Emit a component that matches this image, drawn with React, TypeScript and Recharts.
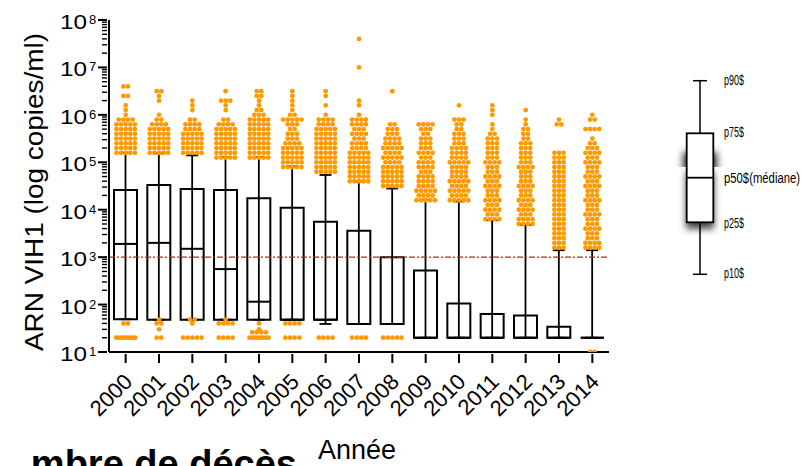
import React from 'react';
import { ComposedChart, Bar, Scatter, XAxis, YAxis, ReferenceLine } from 'recharts';

const years = ['2000', '2001', '2002', '2003', '2004', '2005', '2006', '2007', '2008', '2009', '2010', '2011', '2012', '2013', '2014'];

// box plot percentiles (copies/ml)
const p90 = [1.6e5, 1.55e5, 1.4e5, 1.3e5, 1.3e5, 8.2e4, 5.4e4, 3.9e4, 2.8e4, 1.6e4, 1.5e4, 6e3, 4.8e3, 1.4e3, 1.4e3];
const p75 = [2.6e4, 3.3e4, 2.75e4, 2.6e4, 1.75e4, 1.1e4, 5.6e3, 3.6e3, 1e3, 520, 105, 63, 59, 34, 20];
const p50 = [1.9e3, 2.0e3, 1.5e3, 560, 115, 48, 48, 39, 39, 20, 20, 20, 20, 20, 20];
const p25 = [49, 48, 48, 48, 48, 48, 48, 39, 39, 20, 20, 20, 20, 20, 20];
const p10 = [49, 48, 48, 48, 48, 48, 39, 39, 39, 20, 20, 20, 20, 20, 20];

// points above p90: number of dots per row, rows are 0.1 log apart starting at upperStart
const upperStart = [5.2, 5.2, 5.2, 5.1, 5.1, 4.9, 4.8, 4.6, 4.5, 4.2, 4.2, 3.8, 3.7, 3.2, 3.2];
const upperCounts = [
  [5, 5, 5, 5, 5, 5, 5, 4, 1, 1, 1, 0, 2, 0, 2],
  [5, 5, 5, 5, 5, 5, 4, 2, 1, 0, 0, 1, 1, 2],
  [5, 5, 5, 5, 5, 4, 4, 2, 0, 1, 1, 1],
  [5, 5, 5, 5, 5, 5, 5, 4, 2, 0, 1, 1, 3, 0, 1],
  [5, 5, 5, 5, 5, 5, 5, 5, 5, 3, 2, 1, 1, 2, 2],
  [5, 5, 5, 5, 5, 4, 3, 3, 2, 3, 5, 2, 1, 1, 1, 1, 1],
  [5, 5, 5, 5, 5, 5, 5, 5, 5, 5, 4, 4, 1, 0, 1, 0, 1, 1],
  [5, 5, 5, 5, 5, 5, 5, 4, 4, 3, 4, 3, 4, 4, 1, 0, 1, 1, 0, 0, 0, 0, 0, 0, 1, 0, 0, 0, 0, 0, 1],
  [5, 5, 5, 5, 5, 4, 5, 4, 5, 4, 4, 3, 3, 2, 0, 0, 0, 0, 0, 0, 1],
  [5, 4, 5, 4, 4, 4, 3, 4, 4, 3, 4, 3, 3, 3, 2, 3, 4],
  [5, 4, 5, 4, 5, 4, 4, 4, 5, 4, 4, 4, 3, 3, 3, 2, 2, 3, 0, 0, 1],
  [4, 3, 4, 3, 4, 3, 3, 4, 3, 4, 3, 3, 4, 3, 3, 3, 3, 3, 2, 1, 1, 0, 1, 1, 1],
  [4, 4, 3, 4, 3, 4, 3, 3, 4, 3, 3, 3, 4, 3, 3, 3, 3, 3, 2, 2, 2, 1, 1, 0, 1],
  [3, 3, 3, 3, 3, 3, 3, 3, 3, 3, 3, 3, 3, 3, 3, 3, 3, 3, 3, 3, 3, 0, 0, 0, 0, 0, 2, 1],
  [4, 4, 3, 3, 4, 3, 3, 4, 3, 3, 4, 3, 3, 4, 3, 4, 3, 3, 4, 3, 4, 3, 2, 1, 0, 4, 0, 2, 1],
];

// points below p10: [value, count]
const lowerDots = [
  [[40, 2], [20, 8]],
  [[48, 1], [40, 2], [30, 1], [20, 2]],
  [[48, 2], [40, 1], [20, 5]],
  [[48, 1], [40, 4], [20, 4]],
  [[40, 1], [30, 1], [26, 4], [20, 8]],
  [[40, 4], [20, 4]],
  [[20, 4]],
  [[20, 4]],
  [[20, 5]],
  [],
  [],
  [],
  [],
  [],
  [[10, 2]],
];

const majorTicks = [10, 100, 1e3, 1e4, 1e5, 1e6, 1e7, 1e8];
const threshold = 1000;
const legendLabels = ['p90$', 'p75$', 'p50$(médiane)', 'p25$', 'p10$'];

const FONT = '"Liberation Sans", Arial, sans-serif';
const ORANGE = '#FF9900';

const boxData = years.map((year, i) => ({
  year,
  whisker: [p10[i], p90[i]],
  box: [p25[i], p75[i]],
  median: p50[i],
}));

// beeswarm rows: dots of one row spread side by side
const dotData: { year: string; value: number; dx: number }[] = [];
function addRow(year: string, value: number, n: number) {
  const step = n > 1 ? Math.min(4.6, 19 / (n - 1)) : 0;
  for (let k = 0; k < n; k++) {
    dotData.push({ year, value, dx: (k - (n - 1) / 2) * step });
  }
}
years.forEach((year, i) => {
  upperCounts[i].forEach((n, r) => {
    if (n > 0) addRow(year, Math.pow(10, upperStart[i] + r * 0.1), n);
  });
  lowerDots[i].forEach(([v, n]) => addRow(year, v, n));
});

// log minor ticks between the decades
const allTicks: number[] = [];
majorTicks.forEach((t, i) => {
  allTicks.push(t);
  if (i < majorTicks.length - 1) {
    for (let m = 2; m <= 9; m++) allTicks.push(t * m);
  }
});

function YTick({ x, y, payload }: any) {
  const v = payload.value;
  const exp = Math.round(Math.log10(v));
  const isMajor = Math.abs(v - Math.pow(10, exp)) < v * 1e-6;
  if (!isMajor) {
    return <line x1={x - 5} x2={x} y1={y} y2={y} stroke="#000" strokeWidth={1.4} />;
  }
  return (
    <g>
      <line x1={x - 9} x2={x} y1={y} y2={y} stroke="#000" strokeWidth={2} />
      <text x={x - 20} y={y + 9} textAnchor="end" fontSize={20} fontFamily={FONT} fill="#000"
        textLength={27} lengthAdjust="spacingAndGlyphs">10</text>
      <text x={x - 18} y={y + 4} fontSize={13} fontFamily={FONT} fill="#000">{exp}</text>
    </g>
  );
}

function XTick({ x, y, payload }: any) {
  const tx = x + 8;
  const ty = y + 29;
  return (
    <g>
      <line x1={x} x2={x} y1={y} y2={y + 9} stroke="#000" strokeWidth={2} />
      <text x={tx} y={ty} transform={`rotate(-45 ${tx} ${ty})`} textAnchor="end" fontSize={22}
        fontFamily={FONT} fill="#000">{payload.value}</text>
    </g>
  );
}

function WhiskerShape({ x, y, width, height }: any) {
  const cx = x + width / 2;
  const bottom = y + Math.max(height, 0);
  return (
    <g stroke="#000" strokeWidth={1.8}>
      <line x1={cx} x2={cx} y1={y} y2={bottom} />
      <line x1={cx - 6} x2={cx + 6} y1={y} y2={y} />
      <line x1={cx - 6} x2={cx + 6} y1={bottom} y2={bottom} />
    </g>
  );
}

function BoxShape({ x, y, width, height }: any) {
  const h = Math.max(height, 0);
  return (
    <path d={`M${x},${y}h${width}v${h}h${-width}Z`} fill="none" stroke="#000" strokeWidth={2} />
  );
}

function MedianShape({ cx, cy }: any) {
  return <line x1={cx - 11.5} x2={cx + 11.5} y1={cy} y2={cy} stroke="#000" strokeWidth={2} />;
}

function DotShape({ cx, cy, payload }: any) {
  return <circle cx={cx + payload.dx} cy={cy} r={2.4} fill={ORANGE} />;
}

function BoxLegend() {
  const ys = [85, 137, 183, 228, 278];
  const widths = [20, 20, 76, 20, 20];
  return (
    <svg width={802} height={466} style={{ position: 'absolute', left: 0, top: 0, pointerEvents: 'none' }}>
      <defs>
        <filter id="blur" x="-50%" y="-50%" width="200%" height="200%">
          <feGaussianBlur stdDeviation="3.5" />
        </filter>
        <clipPath id="clipTop"><rect x={670} y={140} width={60} height={27} /></clipPath>
        <clipPath id="clipBot"><rect x={670} y={167} width={60} height={80} /></clipPath>
      </defs>
      <g clipPath="url(#clipTop)">
        <rect x={683} y={152} width={34} height={20} fill="#333" filter="url(#blur)" />
      </g>
      <g clipPath="url(#clipBot)">
        <rect x={686} y={172} width={28} height={57} fill="#444" filter="url(#blur)" />
      </g>
      <g stroke="#000">
        <line x1={700} x2={700} y1={80.7} y2={274.3} strokeWidth={1.5} />
        <line x1={693} x2={707} y1={80.7} y2={80.7} strokeWidth={1.5} />
        <line x1={693} x2={707} y1={274.3} y2={274.3} strokeWidth={1.5} />
        <rect x={686.7} y={133.3} width={26.6} height={89} fill="#fff" strokeWidth={1.8} />
        <line x1={686.7} x2={713.3} y1={177.7} y2={177.7} strokeWidth={1.8} />
      </g>
      {legendLabels.map((t, i) => (
        <text key={t} x={724} y={ys[i]} fontSize={14} textLength={widths[i]} lengthAdjust="spacingAndGlyphs"
          fontFamily='"Liberation Sans Narrow", "Liberation Sans", sans-serif' fill="#000">{t}</text>
      ))}
    </svg>
  );
}

export default function App() {
  return (
    <div style={{ position: 'relative', width: 802, height: 466, background: '#fff', overflow: 'hidden' }}>
      <style>{'body{margin:0}'}</style>
      <ComposedChart width={802} height={466} data={boxData}
        margin={{ top: 20, right: 193, left: 9, bottom: 54 }}>
        <XAxis xAxisId="main" dataKey="year" type="category" allowDuplicatedCategory={false}
          interval={0} tickSize={0} tickLine={false} tick={<XTick />} height={60}
          axisLine={{ stroke: '#000', strokeWidth: 2 }} />
        <XAxis xAxisId="aux" dataKey="year" type="category" allowDuplicatedCategory={false}
          orientation="top" height={0} hide />
        <YAxis type="number" scale="log" domain={[10, 1e8]} allowDataOverflow ticks={allTicks}
          interval={0} tickSize={0} tickLine={false} tick={<YTick />} width={100}
          axisLine={{ stroke: '#000', strokeWidth: 2 }} />
        <Bar xAxisId="aux" dataKey="whisker" barSize={23} shape={<WhiskerShape />} isAnimationActive={false} />
        <Bar xAxisId="main" dataKey="box" barSize={23} shape={<BoxShape />} isAnimationActive={false} />
        <Scatter xAxisId="main" dataKey="median" shape={<MedianShape />} isAnimationActive={false} />
        <Scatter xAxisId="main" data={dotData} dataKey="value" shape={<DotShape />} isAnimationActive={false} />
        <ReferenceLine xAxisId="main" y={threshold} stroke="#B8262B" strokeWidth={1.3}
          strokeDasharray="6 2 2 2" />
      </ComposedChart>
      <BoxLegend />
      <svg width={802} height={466} style={{ position: 'absolute', left: 0, top: 0, pointerEvents: 'none' }}>
        <text x={43} y={192} transform="rotate(-90 43 192)" textAnchor="middle" fontSize={25}
          fontFamily={FONT} fill="#000" textLength={318} lengthAdjust="spacingAndGlyphs">
          ARN VIH1 (log copies/ml)
        </text>
        <text x={318} y={459} fontSize={27} fontFamily={FONT} fill="#000">Année</text>
        <text x={297} y={476.5} textAnchor="end" fontSize={38} fontWeight="bold" fontFamily={FONT}
          fill="#000">mbre de décès</text>
      </svg>
    </div>
  );
}
